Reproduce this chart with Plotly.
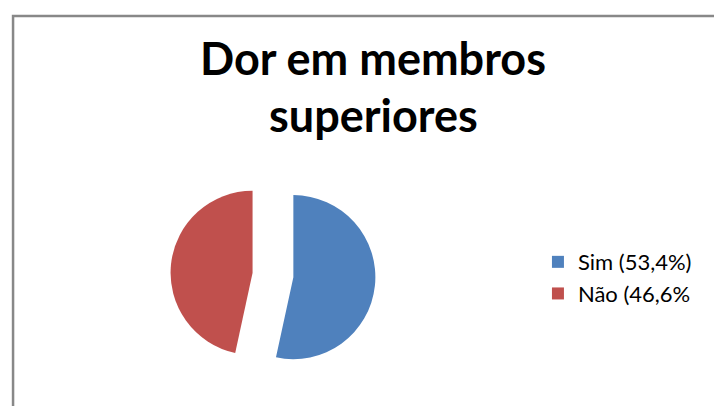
import plotly.graph_objects as go

categories = ["Sim (53,4%)", "Não (46,6%"]
values = [53.4, 46.6]
colors = ["#4F81BD", "#C0504D"]
title_lines = ["Dor em membros", "superiores"]

fig = go.Figure()
fig.add_trace(go.Pie(
    labels=categories,
    values=values,
    marker=dict(colors=colors, line=dict(color="#ffffff", width=0)),
    sort=False,
    direction="clockwise",
    rotation=0,
    pull=[0.25, 0.25],
    textinfo="none",
    hoverinfo="label+percent",
    domain=dict(x=[0.087, 0.647], y=[0.09, 0.595]),
))

title_font = dict(family="Lato, Open Sans, sans-serif", size=45, color="#000000")
annotations = [
    dict(text="<b>" + title_lines[0] + "</b>", x=0.506, y=0.877, xref="paper", yref="paper",
         xanchor="center", yanchor="middle", showarrow=False, font=title_font),
    dict(text="<b>" + title_lines[1] + "</b>", x=0.506, y=0.737, xref="paper", yref="paper",
         xanchor="center", yanchor="middle", showarrow=False, font=title_font),
]

fig.update_layout(
    width=722, height=406,
    margin=dict(l=0, r=0, t=0, b=0),
    paper_bgcolor="white",
    plot_bgcolor="white",
    annotations=annotations,
    showlegend=True,
    legend=dict(x=0.734, y=0.426, xanchor="left", yanchor="top",
                font=dict(family="Lato, Open Sans, sans-serif", size=22, color="#000000"),
                itemwidth=30, bgcolor="rgba(0,0,0,0)"),
    shapes=[dict(type="rect", xref="paper", yref="paper", x0=0.007, x1=1.05, y0=-0.05, y1=0.98,
                 line=dict(color="#888888", width=2.5), fillcolor="rgba(0,0,0,0)", layer="below")],
)

fig.write_html("out.html")
